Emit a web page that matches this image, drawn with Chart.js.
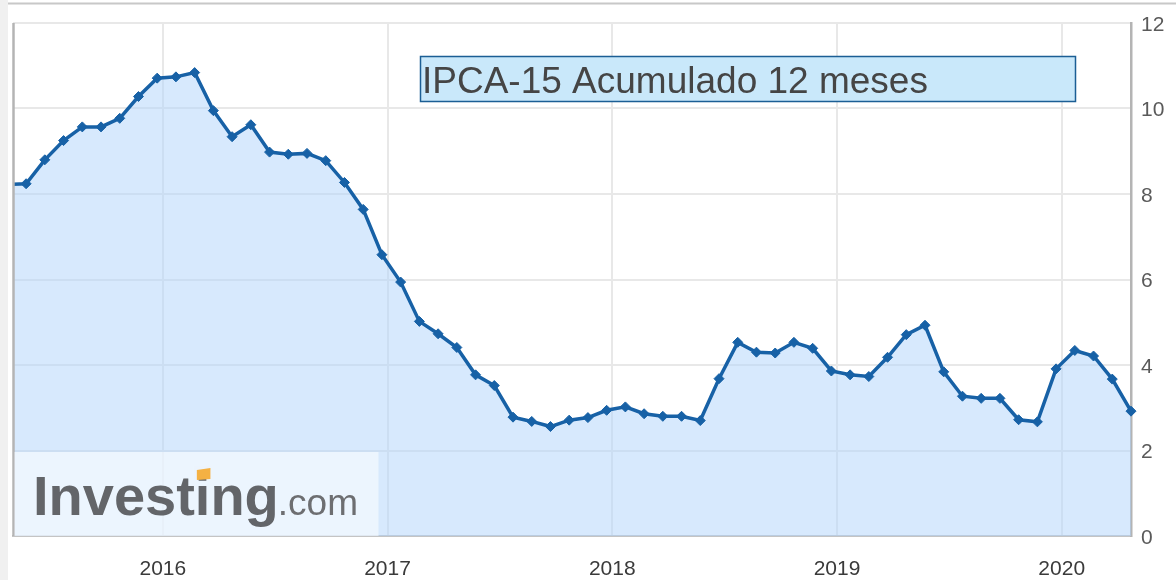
<!DOCTYPE html>
<html><head><meta charset="utf-8">
<script src="https://cdn.jsdelivr.net/npm/chart.js@4.4.1/dist/chart.umd.min.js"></script>
<style>html,body{margin:0;padding:0;background:#fff;}#wrap{width:1176px;height:580px;position:relative;}</style>
</head><body><div id="wrap"><canvas id="c" width="1176" height="580"></canvas></div>
<script>
// Release months (IPCA-15, 12-month accumulated)
const releaseMonths = [
  "2015-04","2015-05","2015-06","2015-07","2015-08","2015-09","2015-10","2015-11","2015-12",
  "2016-01","2016-02","2016-03","2016-04","2016-05","2016-06","2016-07","2016-08","2016-09","2016-10","2016-11","2016-12",
  "2017-01","2017-02","2017-03","2017-04","2017-05","2017-06","2017-07","2017-08","2017-09","2017-10","2017-11","2017-12",
  "2018-01","2018-02","2018-03","2018-04","2018-05","2018-06","2018-07","2018-08","2018-09","2018-10","2018-11","2018-12",
  "2019-01","2019-02","2019-03","2019-04","2019-05","2019-06","2019-07","2019-08","2019-09","2019-10","2019-11","2019-12",
  "2020-01","2020-02","2020-03","2020-04"
];
const ipca15 = [
  8.22, 8.24, 8.80, 9.25, 9.57, 9.57, 9.77, 10.28, 10.71,
  10.74, 10.84, 9.95, 9.34, 9.62, 8.98, 8.93, 8.95, 8.78, 8.27, 7.64, 6.58,
  5.94, 5.02, 4.73, 4.41, 3.77, 3.52, 2.78, 2.68, 2.56, 2.71, 2.77, 2.94,
  3.02, 2.86, 2.80, 2.80, 2.70, 3.68, 4.53, 4.30, 4.28, 4.53, 4.39, 3.86,
  3.77, 3.73, 4.18, 4.71, 4.93, 3.84, 3.27, 3.22, 3.22, 2.72, 2.67, 3.91,
  4.34, 4.21, 3.67, 2.92
];
const yearTicks = [2016, 2017, 2018, 2019, 2020];
const yTickValues = [0, 2, 4, 6, 8, 10, 12];
const titleText = "IPCA-15 Acumulado 12 meses";
const viewStart = "2015-05";

// release day ~ 3 weeks into the month
const toYear = (ym, frac) => { const [y, m] = ym.split("-").map(Number); return y + (m - 1 + frac) / 12; };
const points = releaseMonths.map((ym, i) => ({ x: toYear(ym, 0.7), y: ipca15[i] }));

const decor = {
  id: 'decor',
  beforeDraw(chart) {
    const ctx = chart.ctx;
    ctx.save();
    ctx.fillStyle = '#f0f0f0';
    ctx.fillRect(0, 0, 8, 580);
    ctx.fillStyle = '#c8c8c8';
    ctx.fillRect(8, 2.5, 1168, 2);
    ctx.restore();
  },
  afterDatasetsDraw(chart) {
    const ctx = chart.ctx, a = chart.chartArea;
    ctx.save();
    // left frame line
    ctx.strokeStyle = '#b4b4b4';
    ctx.lineWidth = 2.5;
    ctx.beginPath(); ctx.moveTo(a.left + 0.5, a.top); ctx.lineTo(a.left + 0.5, a.bottom); ctx.stroke();
    // watermark box
    ctx.fillStyle = 'rgba(255,255,255,0.55)';
    ctx.fillRect(a.left + 1.5, 452, 364, a.bottom - 452);
    // Investing.com logo text
    ctx.textBaseline = 'alphabetic';
    ctx.font = 'bold 56px "Liberation Sans", Arial, sans-serif';
    ctx.fillStyle = '#636569';
    const word = 'Investing';
    ctx.fillText(word, 33, 515);
    const wInvest = ctx.measureText('Invest').width;
    const wI = ctx.measureText('i').width;
    const wWord = ctx.measureText(word).width;
    // cover i dot with orange accent
    const ix = 33 + wInvest;
    ctx.fillStyle = 'rgba(236,244,253,1)';
    ctx.fillRect(ix - 1, 466, wI + 2, 13);
    ctx.fillStyle = '#f4b143';
    ctx.beginPath();
    ctx.moveTo(ix + 2, 470); ctx.lineTo(ix + wI, 468); ctx.lineTo(ix + wI, 479); ctx.lineTo(ix + 2, 480); ctx.closePath();
    ctx.fill();
    ctx.font = '37px "Liberation Sans", Arial, sans-serif';
    ctx.fillStyle = '#6d6e71';
    ctx.fillText('.com', 33 + wWord - 1, 515);
    // title box
    ctx.fillStyle = '#c9e8fa';
    ctx.fillRect(420, 56, 656, 46);
    ctx.strokeStyle = '#1b5e94';
    ctx.lineWidth = 1.5;
    ctx.strokeRect(420.5, 56.5, 655, 45);
    ctx.font = '37px "Liberation Sans", Arial, sans-serif';
    ctx.fillStyle = '#454545';
    ctx.fillText(titleText, 422, 93);
    ctx.restore();
  }
};

new Chart(document.getElementById('c'), {
  type: 'line',
  data: {
    datasets: [{
      data: points,
      borderColor: '#1761a6',
      backgroundColor: 'rgba(176,212,252,0.5)',
      borderWidth: 3.5,
      fill: 'origin',
      tension: 0,
      pointStyle: 'rectRot',
      pointRadius: 5,
      pointBackgroundColor: '#1761a6',
      pointBorderColor: '#1761a6',
      pointBorderWidth: 1,
      clip: { left: 0, top: 10, right: 10, bottom: 0 }
    }]
  },
  options: {
    responsive: false,
    animation: false,
    devicePixelRatio: 1,
    layout: { padding: { left: 13, top: 23, right: 0, bottom: 0 } },
    plugins: { legend: { display: false }, tooltip: { enabled: false } },
    scales: {
      x: {
        type: 'linear',
        min: toYear(viewStart, 0),
        max: points[points.length - 1].x,
        afterBuildTicks: (s) => { s.ticks = yearTicks.map(v => ({ value: v })); },
        afterFit: (s) => { s.height = 44; },
        ticks: {
          callback: (v) => String(v),
          color: '#3a3a3a',
          font: { family: '"Liberation Sans", Arial, sans-serif', size: 21 },
          padding: 21,
          maxRotation: 0,
          autoSkip: false
        },
        grid: { color: '#e8e8e8', lineWidth: 2, drawTicks: false },
        border: { display: true, color: '#c4c4c4', width: 2 }
      },
      y: {
        position: 'right',
        min: 0,
        max: 12,
        afterBuildTicks: (s) => { s.ticks = yTickValues.map(v => ({ value: v })); },
        afterFit: (s) => { s.width = 45; },
        ticks: {
          color: '#5a5a5a',
          font: { family: '"Liberation Sans", Arial, sans-serif', size: 21 },
          padding: 10,
          labelOffset: 2
        },
        grid: { color: '#e8e8e8', lineWidth: 2, drawTicks: false },
        border: { display: true, color: '#b4b4b4', width: 2.5 }
      }
    }
  },
  plugins: [decor]
});
</script>
</body></html>
